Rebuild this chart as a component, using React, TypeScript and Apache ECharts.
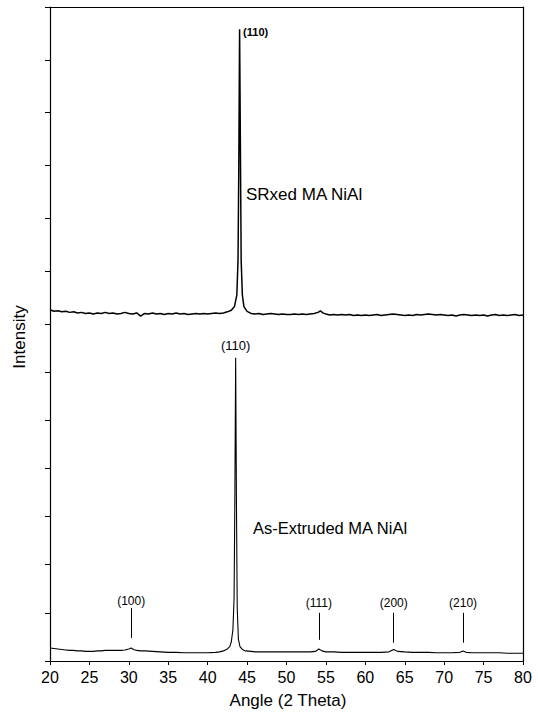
import React, { useEffect, useRef } from "react";
import * as echarts from "echarts";

// Top pattern: SRxed MA NiAl
const topAngles = [
  20.0, 20.5, 21.0, 21.5, 22.0, 22.5, 23.0, 23.5, 24.0, 24.5, 25.0, 25.5, 26.0, 26.5, 27.0, 27.5, 28.0, 28.5, 29.0, 29.5,
  30.0, 30.5, 31.0, 31.5, 32.0, 32.5, 33.0, 33.5, 34.0, 34.5, 35.0, 35.5, 36.0, 36.5, 37.0, 37.5, 38.0, 38.5, 39.0, 39.5,
  40.0, 40.5, 41.0, 41.5, 42.0, 42.5, 43.0, 43.4, 43.7, 43.85, 43.95, 44.05, 44.15, 44.25, 44.4, 44.6, 45.0, 45.5, 46.0, 46.5,
  47.0, 47.5, 48.0, 48.5, 49.0, 49.5, 50.0, 50.5, 51.0, 51.5, 52.0, 52.5, 53.0, 53.5, 54.0, 54.3, 54.6, 55.0, 55.5, 56.0,
  56.5, 57.0, 57.5, 58.0, 58.5, 59.0, 59.5, 60.0, 60.5, 61.0, 61.5, 62.0, 62.5, 63.0, 63.5, 64.0, 64.5, 65.0, 65.5, 66.0,
  66.5, 67.0, 67.5, 68.0, 68.5, 69.0, 69.5, 70.0, 70.5, 71.0, 71.5, 72.0, 72.5, 73.0, 73.5, 74.0, 74.5, 75.0, 75.5, 76.0,
  76.5, 77.0, 77.5, 78.0, 78.5, 79.0, 79.5, 80.0,
];
const topIntensity = [
  0.27, 0.24, 0.25, 0.23, 0.24, 0.22, 0.23, 0.21, 0.22, 0.20, 0.21, 0.19, 0.21, 0.20, 0.22, 0.20, 0.21, 0.19, 0.20, 0.22,
  0.20, 0.19, 0.21, 0.15, 0.20, 0.19, 0.21, 0.19, 0.20, 0.18, 0.20, 0.19, 0.21, 0.19, 0.20, 0.18, 0.19, 0.20, 0.19, 0.20,
  0.19, 0.20, 0.21, 0.20, 0.21, 0.23, 0.26, 0.33, 0.55, 1.2, 3.0, 5.58, 3.4, 1.2, 0.55, 0.33, 0.24, 0.20, 0.19, 0.20,
  0.18, 0.19, 0.20, 0.19, 0.18, 0.19, 0.18, 0.18, 0.19, 0.18, 0.19, 0.18, 0.19, 0.20, 0.22, 0.25, 0.21, 0.19, 0.17, 0.18,
  0.17, 0.18, 0.17, 0.18, 0.16, 0.17, 0.16, 0.17, 0.16, 0.17, 0.18, 0.16, 0.17, 0.18, 0.19, 0.18, 0.17, 0.16, 0.17, 0.16,
  0.18, 0.17, 0.18, 0.19, 0.18, 0.17, 0.18, 0.17, 0.16, 0.17, 0.15, 0.17, 0.18, 0.17, 0.16, 0.17, 0.16, 0.17, 0.15, 0.17,
  0.18, 0.16, 0.17, 0.16, 0.17, 0.18, 0.16, 0.17,
];

// Bottom pattern: As-Extruded MA NiAl
const bottomAngles = [
  20.0, 20.5, 21.0, 21.5, 22.0, 22.5, 23.0, 23.5, 24.0, 24.5, 25.0, 25.5, 26.0, 26.5, 27.0, 27.5, 28.0, 28.5, 29.0, 29.5,
  30.0, 30.3, 30.6, 31.0, 31.5, 32.0, 33.0, 34.0, 35.0, 36.0, 37.0, 38.0, 39.0, 40.0, 41.0, 41.5, 42.0, 42.5, 42.8, 43.0,
  43.2, 43.35, 43.45, 43.55, 43.65, 43.75, 43.9, 44.1, 44.4, 44.8, 45.5, 46.0, 47.0, 48.0, 49.0, 50.0, 51.0, 52.0, 53.0, 53.7,
  54.1, 54.5, 55.0, 56.0, 57.0, 58.0, 59.0, 60.0, 61.0, 62.0, 63.0, 63.6, 64.1, 65.0, 66.0, 67.0, 68.0, 69.0, 70.0, 71.0,
  72.0, 72.4, 72.8, 73.5, 74.0, 75.0, 76.0, 77.0, 78.0, 79.0, 80.0,
];
const bottomIntensity = [
  0.27, 0.26, 0.25, 0.24, 0.23, 0.22, 0.22, 0.21, 0.21, 0.20, 0.20, 0.20, 0.21, 0.21, 0.22, 0.22, 0.22, 0.22, 0.22, 0.23,
  0.25, 0.27, 0.24, 0.22, 0.21, 0.21, 0.20, 0.19, 0.18, 0.18, 0.17, 0.17, 0.17, 0.17, 0.18, 0.19, 0.21, 0.25, 0.30, 0.40,
  0.65, 1.3, 3.4, 6.3, 3.3, 1.1, 0.45, 0.30, 0.24, 0.21, 0.20, 0.19, 0.19, 0.19, 0.19, 0.19, 0.19, 0.19, 0.19, 0.20,
  0.25, 0.21, 0.19, 0.19, 0.18, 0.18, 0.18, 0.18, 0.18, 0.18, 0.19, 0.24, 0.20, 0.19, 0.18, 0.18, 0.18, 0.17, 0.17, 0.17,
  0.18, 0.21, 0.18, 0.17, 0.17, 0.17, 0.17, 0.17, 0.16, 0.16, 0.16,
];

// Minor reflections marked on the bottom pattern
const minorPeakLabels = ["(100)", "(111)", "(200)", "(210)"];
const minorPeakAngles = [30.3, 54.1, 63.6, 72.4];
const minorPeakLineLow = [0.48, 0.44, 0.38, 0.38];
const minorPeakLineHigh = [1.1, 1.0, 1.0, 1.0];

// Main (110) reflections
const topMainPeak = { label: "(110)", angle: 44.05, value: 5.58 };
const bottomMainPeak = { label: "(110)", angle: 43.55, value: 6.3 };

const xTickLabels = [20, 25, 30, 35, 40, 45, 50, 55, 60, 65, 70, 75, 80];

const FONT = "Liberation Sans, Arial, Helvetica, sans-serif";

export default function App() {
  const ref = useRef<HTMLDivElement>(null);

  useEffect(() => {
    if (!ref.current) return;
    const chart = echarts.init(ref.current, undefined, { renderer: "svg" });

    const topData = topAngles.map((a, i) => [a, topIntensity[i]]);
    const bottomData = bottomAngles.map((a, i) => [a, bottomIntensity[i]]);

    const markLineData = minorPeakAngles.map((a, i) => [
      { name: minorPeakLabels[i], coord: [a, minorPeakLineLow[i]] },
      {
        coord: [a, minorPeakLineHigh[i]],
        label: { distance: i === 0 ? 1 : 4 },
      },
    ]);

    const axisLineStyle = { color: "#000", width: 1.2 };
    const plainText = { color: "#000", textBorderWidth: 0, textShadowBlur: 0, fontFamily: FONT };

    const option: any = {
      animation: false,
      backgroundColor: "#fff",
      grid: [
        { left: 50, right: 15, top: 7, height: 317 },
        { left: 50, right: 15, top: 324, bottom: 51 },
      ],
      xAxis: [
        {
          type: "value",
          gridIndex: 0,
          position: "top",
          min: 20,
          max: 80,
          interval: 5,
          axisLine: { show: true, onZero: false, lineStyle: axisLineStyle },
          axisTick: { show: false },
          axisLabel: { show: false },
          splitLine: { show: false },
        },
        {
          type: "value",
          gridIndex: 1,
          position: "bottom",
          min: 20,
          max: 80,
          interval: 5,
          axisLine: { show: true, onZero: false, lineStyle: axisLineStyle },
          axisTick: { show: true, inside: false, length: 4, lineStyle: { color: "#000" } },
          axisLabel: {
            show: true,
            ...plainText,
            fontSize: 16,
            margin: 8,
            showMinLabel: true,
            showMaxLabel: true,
            formatter: (v: number) => (xTickLabels.includes(v) ? String(v) : ""),
          },
          splitLine: { show: false },
        },
      ],
      yAxis: [
        {
          type: "value",
          gridIndex: 0,
          position: "left",
          min: 0,
          max: 6,
          interval: 1,
          axisLine: { show: true, onZero: false, lineStyle: axisLineStyle },
          axisTick: { show: true, inside: false, length: 5, lineStyle: { color: "#000" } },
          axisLabel: { show: false },
          splitLine: { show: false },
        },
        {
          type: "value",
          gridIndex: 0,
          position: "right",
          min: 0,
          max: 6,
          axisLine: { show: true, onZero: false, lineStyle: axisLineStyle },
          axisTick: { show: false },
          axisLabel: { show: false },
          splitLine: { show: false },
        },
        {
          type: "value",
          gridIndex: 1,
          position: "left",
          min: 0,
          max: 7,
          interval: 1,
          axisLine: { show: true, onZero: false, lineStyle: axisLineStyle },
          axisTick: { show: true, inside: false, length: 5, lineStyle: { color: "#000" } },
          axisLabel: { show: false },
          splitLine: { show: false },
        },
        {
          type: "value",
          gridIndex: 1,
          position: "right",
          min: 0,
          max: 7,
          axisLine: { show: true, onZero: false, lineStyle: axisLineStyle },
          axisTick: { show: false },
          axisLabel: { show: false },
          splitLine: { show: false },
        },
      ],
      series: [
        {
          name: "SRxed MA NiAl",
          type: "line",
          xAxisIndex: 0,
          yAxisIndex: 0,
          data: topData,
          showSymbol: false,
          symbol: "none",
          lineStyle: { color: "#000", width: 1.5 },
          markPoint: {
            silent: true,
            symbol: "circle",
            symbolSize: 1,
            itemStyle: { color: "rgba(0,0,0,0)" },
            label: {
              show: true,
              position: "right",
              distance: 3,
              offset: [0, 3],
              ...plainText,
              fontSize: 11,
              fontWeight: "bold",
              formatter: "{b}",
            },
            data: [{ name: topMainPeak.label, coord: [topMainPeak.angle, topMainPeak.value] }],
          },
        },
        {
          name: "As-Extruded MA NiAl",
          type: "line",
          xAxisIndex: 1,
          yAxisIndex: 2,
          data: bottomData,
          showSymbol: false,
          symbol: "none",
          lineStyle: { color: "#000", width: 1.1 },
          markPoint: {
            silent: true,
            symbol: "circle",
            symbolSize: 1,
            itemStyle: { color: "rgba(0,0,0,0)" },
            label: {
              show: true,
              position: "top",
              distance: 5,
              ...plainText,
              fontSize: 13,
              formatter: "{b}",
            },
            data: [{ name: bottomMainPeak.label, coord: [bottomMainPeak.angle, bottomMainPeak.value] }],
          },
          markLine: {
            silent: true,
            symbol: ["none", "none"],
            lineStyle: { color: "#000", type: "solid", width: 1 },
            label: {
              show: true,
              position: "end",
              ...plainText,
              fontSize: 12,
              formatter: "{b}",
            },
            data: markLineData,
          },
        },
      ],
      graphic: [
        {
          type: "text",
          left: 246,
          top: 186,
          style: { text: "SRxed MA NiAl", fontSize: 17, fontFamily: FONT, fill: "#000" },
        },
        {
          type: "text",
          left: 253,
          top: 519,
          style: { text: "As-Extruded MA NiAl", fontSize: 16.5, fontFamily: FONT, fill: "#000" },
        },
        {
          type: "text",
          x: 288,
          y: 700,
          style: {
            text: "Angle (2 Theta)",
            fontSize: 17,
            fontFamily: FONT,
            fill: "#000",
            align: "center",
            verticalAlign: "middle",
          },
        },
        {
          type: "text",
          x: 19,
          y: 337,
          rotation: Math.PI / 2,
          style: {
            text: "Intensity",
            fontSize: 17,
            fontFamily: FONT,
            fill: "#000",
            align: "center",
            verticalAlign: "middle",
          },
        },
      ],
    };

    chart.setOption(option);
    return () => chart.dispose();
  }, []);

  return (
    <div
      ref={ref}
      style={{ position: "fixed", left: 0, top: 0, width: 538, height: 712, background: "#fff" }}
    />
  );
}
